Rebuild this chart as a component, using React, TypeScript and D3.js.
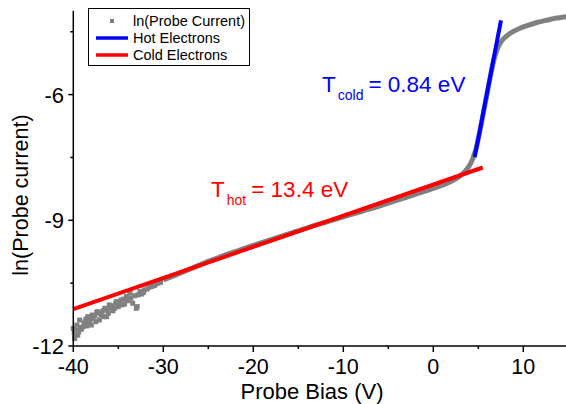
import React, { useRef, useEffect } from 'react'
import * as d3 from 'd3'

// measured ln(I) vs bias, noisy low-bias part
const noisyBias = [-40, -39.9, -39.85, -39.8, -39.7, -39.6, -39.5, -39.4, -39.3, -39.2, -39.1, -38.9, -38.8, -38.7, -38.6, -38.5, -38.4, -38.2, -38.1, -38.0, -37.9, -37.8, -37.6, -37.5, -37.4, -37.3, -37.1, -37.0, -36.9, -36.7, -36.6, -36.5, -36.3, -36.2, -36.1, -36.0, -35.8, -35.7, -35.6, -35.4, -35.3, -35.2, -35.0, -34.9, -34.7, -34.6, -34.4, -34.3, -34.1, -34.0, -33.9, -33.7, -33.6, -33.4, -33.2, -33.0, -32.9, -32.8, -32.6, -32.4, -32.2, -32.1, -31.8, -31.6, -31.3, -31.0, -30.8, -30.6, -30.3]
const noisyLnI = [-11.58, -11.68, -11.82, -11.76, -11.62, -11.5, -11.74, -11.66, -11.38, -11.56, -11.6, -11.54, -11.46, -11.42, -11.36, -11.52, -11.3, -11.44, -11.36, -11.5, -11.26, -11.34, -11.28, -11.42, -11.2, -11.18, -11.38, -11.22, -11.26, -11.16, -11.3, -11.1, -11.3, -11.14, -11.22, -11.02, -11.08, -11.04, -11.16, -11.1, -10.98, -10.94, -11.06, -10.96, -10.9, -11.02, -10.88, -11.0, -10.82, -10.92, -10.9, -10.74, -10.86, -10.98, -10.8, -11.1, -11.06, -10.78, -10.7, -10.76, -10.72, -10.66, -10.64, -10.6, -10.58, -10.56, -10.52, -10.5, -10.48]

// smooth part
const bias = [-30, -29, -28, -27, -26, -25, -24, -23, -22, -21, -20, -18, -16, -14, -12, -10, -8, -6, -4, -2, 0, 1, 2, 3, 3.5, 4, 4.4, 4.8, 5.2, 5.6, 6.0, 6.4, 6.8, 7.1, 7.4, 7.8, 8.5, 9.5, 10.5, 11.5, 12.5, 13.5, 14.5, 15]
const lnI = [-10.42, -10.34, -10.25, -10.16, -10.07, -9.98, -9.9, -9.82, -9.75, -9.67, -9.6, -9.46, -9.32, -9.18, -9.05, -8.92, -8.79, -8.66, -8.52, -8.38, -8.24, -8.16, -8.07, -7.94, -7.84, -7.7, -7.52, -7.24, -6.85, -6.4, -5.95, -5.5, -5.12, -4.92, -4.78, -4.67, -4.54, -4.43, -4.35, -4.28, -4.23, -4.18, -4.15, -4.13]

// linear fits (endpoints)
const hotFitX = [-40, 5.5]
const hotFitY = [-11.12, -7.74]
const coldFitX = [4.6, 7.52]
const coldFitY = [-7.49, -4.23]

const xTicks = [-40, -30, -20, -10, 0, 10]
const xMinor = [-35, -25, -15, -5, 5]
const yTicks = [-12, -9, -6]
const yMinor = [-10.5, -7.5, -4.5]

const legendItems = ['ln(Probe Current)', 'Hot Electrons', 'Cold Electrons']

const FONT = 'Arial, "Liberation Sans", sans-serif'

export default function App() {
  const svgRef = useRef<SVGSVGElement>(null)

  useEffect(() => {
    const width = 566
    const height = 404
    const svg = d3.select(svgRef.current)
    svg.selectAll('*').remove()
    svg.attr('viewBox', `0 0 ${width} ${height}`)

    const x = d3.scaleLinear().domain([-40, 15]).range([73.3, 568.3])
    const y = d3.scaleLinear().domain([-12, -4]).range([346, 10.8])

    const gray = '#808080'

    // data
    const pts = bias.map((b, i) => [b, lnI[i]] as [number, number])
    svg.append('path')
      .datum(pts)
      .attr('d', d3.line<[number, number]>().x(d => x(d[0])).y(d => y(d[1])).curve(d3.curveMonotoneX))
      .attr('fill', 'none')
      .attr('stroke', gray)
      .attr('stroke-width', 5)

    svg.append('g').selectAll('rect')
      .data(noisyBias.map((b, i) => [b, noisyLnI[i]]))
      .join('rect')
      .attr('x', d => x(d[0]) - 2.5)
      .attr('y', d => y(d[1]) - 2.5)
      .attr('width', 5)
      .attr('height', 5)
      .attr('fill', gray)

    const drawFit = (xs: number[], ys: number[], color: string) => {
      svg.append('path')
        .datum(xs.map((v, i) => [x(v), y(ys[i])] as [number, number]))
        .attr('d', d3.line())
        .attr('stroke', color)
        .attr('stroke-width', 4)
        .attr('fill', 'none')
    }
    drawFit(hotFitX, hotFitY, '#ff0000')
    drawFit(coldFitX, coldFitY, '#0000ff')

    // axes
    const axisColor = '#000'
    const xAxis = svg.append('g').attr('font-family', FONT)
    xAxis.append('line')
      .attr('x1', x(-40)).attr('x2', width).attr('y1', 346).attr('y2', 346)
      .attr('stroke', axisColor).attr('stroke-width', 1.5)
    xAxis.selectAll('.maj').data(xTicks).join('line')
      .attr('x1', d => x(d)).attr('x2', d => x(d)).attr('y1', 346).attr('y2', 352)
      .attr('stroke', axisColor).attr('stroke-width', 1.5)
    xAxis.selectAll('.min').data(xMinor).join('line')
      .attr('x1', d => x(d)).attr('x2', d => x(d)).attr('y1', 346).attr('y2', 349)
      .attr('stroke', axisColor).attr('stroke-width', 1.5)
    xAxis.selectAll('text').data(xTicks).join('text')
      .attr('x', d => x(d)).attr('y', 374)
      .attr('text-anchor', 'middle').attr('font-size', 21.5)
      .text(d => d)

    const yAxis = svg.append('g').attr('font-family', FONT)
    yAxis.append('line')
      .attr('x1', x(-40)).attr('x2', x(-40)).attr('y1', y(-4)).attr('y2', 346)
      .attr('stroke', axisColor).attr('stroke-width', 1.5)
    yAxis.selectAll('.maj').data(yTicks).join('line')
      .attr('x1', x(-40) - 5).attr('x2', x(-40)).attr('y1', d => y(d)).attr('y2', d => y(d))
      .attr('stroke', axisColor).attr('stroke-width', 1.5)
    yAxis.selectAll('.min').data(yMinor).join('line')
      .attr('x1', x(-40) - 3).attr('x2', x(-40)).attr('y1', d => y(d)).attr('y2', d => y(d))
      .attr('stroke', axisColor).attr('stroke-width', 1.5)
    yAxis.selectAll('text').data(yTicks).join('text')
      .attr('x', 64).attr('y', d => y(d) + 8)
      .attr('text-anchor', 'end').attr('font-size', 22)
      .text(d => d)

    svg.append('text')
      .attr('x', 312).attr('y', 399)
      .attr('text-anchor', 'middle').attr('font-family', FONT).attr('font-size', 22)
      .text('Probe Bias (V)')
    svg.append('text')
      .attr('transform', 'translate(28,195) rotate(-90)')
      .attr('text-anchor', 'middle').attr('font-family', FONT).attr('font-size', 21.5)
      .text('ln(Probe current)')

    // annotations
    const tCold = svg.append('text').attr('font-family', FONT).attr('fill', '#0000ff').attr('x', 322).attr('y', 92)
    tCold.append('tspan').attr('font-size', 22.5).text('T')
    tCold.append('tspan').attr('font-size', 14).attr('dy', 8).attr('dx', 2).text('cold')
    tCold.append('tspan').attr('font-size', 22.5).attr('dy', -8).attr('dx', 5).text('= 0.84 eV')

    const tHot = svg.append('text').attr('font-family', FONT).attr('fill', '#ff0000').attr('x', 211).attr('y', 197)
    tHot.append('tspan').attr('font-size', 22.5).text('T')
    tHot.append('tspan').attr('font-size', 14).attr('dy', 8).attr('dx', 2).text('hot')
    tHot.append('tspan').attr('font-size', 22.5).attr('dy', -8).attr('dx', 5).text('= 13.4 eV')

    // legend
    const lg = svg.append('g').attr('font-family', FONT)
    lg.append('rect')
      .attr('x', 88.5).attr('y', 8.5).attr('width', 161).attr('height', 57)
      .attr('fill', '#fff').attr('stroke', '#000').attr('stroke-width', 1)
    legendItems.forEach((label, i) => {
      const cy = 21 + i * 17
      if (i === 0) {
        lg.append('rect').attr('x', 110).attr('y', cy - 2).attr('width', 4).attr('height', 4).attr('fill', gray)
      } else {
        lg.append('line')
          .attr('x1', 96).attr('x2', 128).attr('y1', cy).attr('y2', cy)
          .attr('stroke', i === 1 ? '#0000ff' : '#ff0000').attr('stroke-width', 3.5)
      }
      lg.append('text').attr('x', 133).attr('y', cy + 5).attr('font-size', 14.5).text(label)
    })
  }, [])

  return (
    <svg
      ref={svgRef}
      width={566}
      height={404}
      style={{ position: 'absolute', left: 0, top: 0, background: '#fff', display: 'block' }}
    />
  )
}
